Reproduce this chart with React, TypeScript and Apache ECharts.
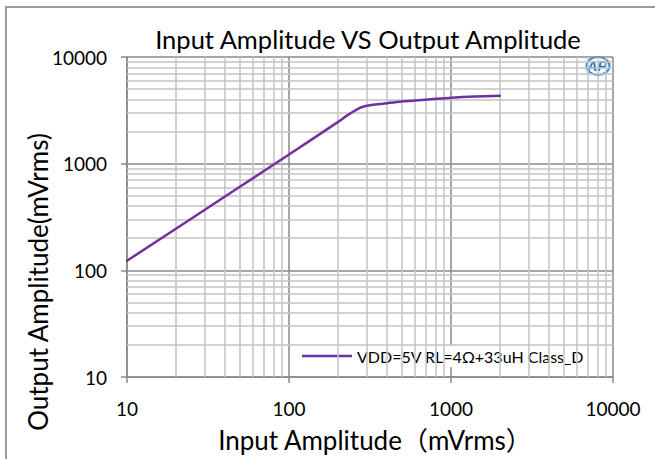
import React, { useEffect, useRef } from "react";
import * as echarts from "echarts";

const inputMv = [10, 50, 100, 200, 230, 260, 290, 330, 380, 450, 580, 750, 1000, 1400, 2000];
const outputMv = [123, 610, 1220, 2450, 2850, 3200, 3430, 3560, 3650, 3770, 3890, 4010, 4150, 4260, 4330];
const minorTicks = [20, 30, 40, 50, 60, 70, 80, 90, 200, 300, 400, 500, 600, 700, 800, 900, 2000, 3000, 4000, 5000, 6000, 7000, 8000, 9000];
const seriesName = "VDD=5V RL=4Ω+33uH Class_D";
const titleText = "Input Amplitude VS Output Amplitude";
const xName = "Input Amplitude（mVrms）";
const yName = "Output Amplitude(mVrms)";

const FONT = "Lato, 'Noto Sans CJK SC', sans-serif";

export default function App() {
  const ref = useRef<HTMLDivElement>(null);
  useEffect(() => {
    if (!ref.current) return;
    const chart = echarts.init(ref.current, null, { renderer: "svg" });
    const minorLines = [
      ...minorTicks.map((v) => ({ xAxis: v })),
      ...minorTicks.map((v) => ({ yAxis: v })),
    ];
    chart.setOption({
      animation: false,
      backgroundColor: "#ffffff",
      grid: { left: 127, right: 42, top: 57, bottom: 82 },
      graphic: [
        {
          type: "rect",
          shape: { x: 6, y: 7, width: 720, height: 520 },
          style: { fill: "none", stroke: "#9a9a9a", lineWidth: 2 },
          z: 0,
        },
        {
          type: "text",
          x: 368,
          y: 39,
          style: {
            text: titleText,
            fontSize: 25.5,
            fontFamily: FONT,
            fill: "#000",
            textAlign: "center",
            textVerticalAlign: "middle",
          },
        },
        {
          type: "text",
          x: 38,
          y: 282,
          rotation: Math.PI / 2,
          style: {
            text: yName,
            fontSize: 26,
            fontFamily: FONT,
            fill: "#000",
            textAlign: "center",
            textVerticalAlign: "middle",
          },
        },
        {
          type: "group",
          x: 582,
          y: 55,
          z: 100,
          children: [
            { type: "rect", shape: { x: 0, y: 0, width: 31, height: 22 }, style: { fill: "#fff" } },
            {
              type: "ellipse",
              shape: { cx: 16, cy: 11, rx: 11.5, ry: 9 },
              style: { fill: "none", stroke: "#2e8fd6", lineWidth: 2 },
            },
            {
              type: "text",
              x: 15,
              y: 11,
              style: {
                text: "AP",
                fontSize: 14,
                fontWeight: "bold",
                fontStyle: "italic",
                fontFamily: "'Liberation Sans', sans-serif",
                fill: "#1f6fc0",
                textAlign: "center",
                textVerticalAlign: "middle",
              },
            },
          ],
        },
      ],
      legend: {
        left: 296,
        top: 345,
        backgroundColor: "#ffffff",
        padding: [3, 6, 3, 6],
        itemWidth: 50,
        itemHeight: 10,
        itemGap: 5,
        textStyle: { fontSize: 16, fontFamily: FONT, color: "#000" },
        data: [{ name: seriesName, icon: "path://M0,0 L50,0 L50,2.5 L0,2.5 Z" }],
      },
      xAxis: {
        type: "log",
        logBase: 10,
        min: 10,
        max: 10000,
        name: xName,
        nameLocation: "middle",
        nameGap: 50,
        nameTextStyle: { fontSize: 26, fontFamily: FONT, color: "#000", padding: [0, 0, 0, 10] },
        axisLine: { show: true, lineStyle: { color: "#8a8a8a", width: 1.5 } },
        axisTick: { show: true, length: 6, lineStyle: { color: "#8a8a8a", width: 1.5 } },
        axisLabel: {
          fontSize: 19,
          fontFamily: FONT,
          color: "#000",
          margin: 22,
          formatter: (v: number) => String(Math.round(v)),
        },
        splitLine: { show: true, lineStyle: { color: "#8a8a8a", width: 1.5 } },
      },
      yAxis: {
        type: "log",
        logBase: 10,
        min: 10,
        max: 10000,
        axisLine: { show: true, lineStyle: { color: "#8a8a8a", width: 1.5 } },
        axisTick: { show: true, length: 6, lineStyle: { color: "#8a8a8a", width: 1.5 } },
        axisLabel: {
          fontSize: 19,
          fontFamily: FONT,
          color: "#000",
          margin: 20,
          formatter: (v: number) => String(Math.round(v)),
        },
        splitLine: { show: true, lineStyle: { color: "#8a8a8a", width: 1.5 } },
      },
      series: [
        {
          name: "minor-grid",
          type: "line",
          z: 1,
          silent: true,
          symbol: "none",
          data: [[10, 10]],
          lineStyle: { opacity: 0 },
          markLine: {
            silent: true,
            symbol: "none",
            label: { show: false },
            lineStyle: { color: "#c3c3c3", width: 1.5, type: "solid" },
            data: minorLines,
          },
        },
        {
          name: seriesName,
          type: "line",
          z: 5,
          symbol: "none",
          smooth: 0.25,
          data: inputMv.map((x, i) => [x, outputMv[i]]),
          lineStyle: { color: "#7030a0", width: 2.5, join: "round", cap: "round" },
          itemStyle: { color: "#7030a0" },
        },
      ],
    });
    return () => chart.dispose();
  }, []);
  return (
    <div
      ref={ref}
      style={{ position: "fixed", left: 0, top: 0, width: 655, height: 459 }}
    />
  );
}
